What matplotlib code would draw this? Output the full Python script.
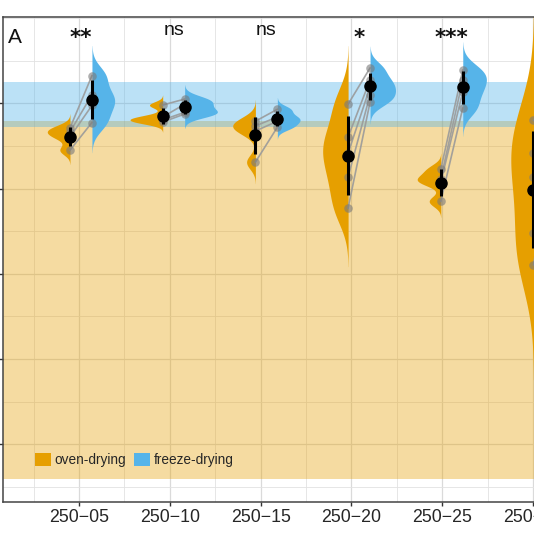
import numpy as np
import matplotlib
matplotlib.use("Agg")
import matplotlib.pyplot as plt
from matplotlib.mlab import GaussianKDE
from matplotlib.patches import Patch
from matplotlib.ticker import MultipleLocator

plt.rcParams['font.family'] = ['Liberation Sans', 'DejaVu Sans']

# groups on the x axis and the test result above each one
groups = ['250−05', '250−10', '250−15', '250−20', '250−25', '250−30']
signif = ['**', 'ns', 'ns', '*', '***', '']

# paired values per group (same samples, two drying methods)
oven = [
    [94.2, 93.3, 92.1, 89.0],
    [99.6, 96.8, 96.1, 95.6],
    [95.8, 94.7, 93.5, 86.2],
    [99.8, 92.1, 88.3, 82.7, 75.4],
    [84.5, 82.3, 81.5, 77.0],
    [96.0, 88.3, 82.7, 69.6, 62.1],
]
freeze = [
    [106.5, 102.0, 99.5, 95.5],
    [101.0, 99.8, 97.9, 97.5],
    [98.6, 96.8, 95.8, 94.4],
    [108.3, 105.5, 103.8, 102.0, 100.3],
    [107.8, 105.5, 102.7, 98.9],
    [104.0, 101.0, 98.0, 96.0, 93.0],  # falls outside the crop
]

# shaded reference ranges
freeze_band = (94.4, 105.0)
oven_band = (11.8, 95.8)

oven_col = '#E69F00'
freeze_col = '#56B4E9'

# violins sit slightly off the tick grid in the original figure
centers = 1.022 + 1.021 * np.arange(len(groups))
dodge = 0.121
half_w = [0.25, 0.36, 0.25, 0.28, 0.26, 0.25]


def half_violin(ax, x0, vals, side, color, w):
    # ggplot-style density: nrd0 bandwidth, untrimmed (cut = 3)
    vals = np.asarray(vals, dtype=float)
    sd = vals.std(ddof=1)
    q1, q3 = np.percentile(vals, [25, 75])
    bw = 0.9 * min(sd, (q3 - q1) / 1.34) * len(vals) ** -0.2
    kde = GaussianKDE(vals, bw_method=bw / sd)
    ys = np.linspace(vals.min() - 3 * bw, vals.max() + 3 * bw, 400)
    dens = kde(ys)
    xs = x0 + side * w * dens / dens.max()
    ax.fill_betweenx(ys, x0, xs, color=color, lw=0, zorder=2)


fig = plt.figure(figsize=(5.34, 5.34), dpi=100)
ax = fig.add_axes([0.00506, 0.0599, 1.095, 0.9082])

ax.axhspan(*oven_band, color=oven_col, alpha=0.37, lw=0, zorder=1)
ax.axhspan(*freeze_band, color=freeze_col, alpha=0.4, lw=0, zorder=1)

for i, c in enumerate(centers):
    xo, xf = c - dodge, c + dodge
    half_violin(ax, xo, oven[i], -1, oven_col, half_w[i])
    half_violin(ax, xf, freeze[i], 1, freeze_col, half_w[i])

    for a, b in zip(oven[i], freeze[i]):
        ax.plot([xo, xf], [a, b], color='#9a9a9a', lw=1.2, alpha=0.9, zorder=3)
    ax.scatter([xo] * len(oven[i]), oven[i], s=38, color='#7a7a7a',
               alpha=0.6, lw=0, zorder=4)
    ax.scatter([xf] * len(freeze[i]), freeze[i], s=38, color='#7a7a7a',
               alpha=0.6, lw=0, zorder=4)

    for x, v in ((xo, oven[i]), (xf, freeze[i])):
        m, s = np.mean(v), np.std(v, ddof=1)
        ax.plot([x, x], [m - s, m + s], color='black', lw=2.2,
                solid_capstyle='butt', zorder=5)
        ax.plot(x, m, 'o', color='black', ms=8, zorder=6)

    lab = signif[i]
    if lab.startswith('*'):
        ax.text(c, 113.9, lab, ha='center', va='baseline', fontsize=15.5,
                family='DejaVu Sans', fontweight='bold', color='#111111')
    elif lab:
        ax.text(c, 116.0, lab, ha='center', va='baseline', fontsize=14,
                color='#111111')

ax.text(0.221, 114.2, 'A', fontsize=15, ha='left', va='baseline',
        color='#111111')

ax.set_xlim(0.16, 6.6)
ax.set_ylim(6.41, 120.26)
ax.set_xticks(range(1, len(groups) + 1))
ax.set_xticklabels(groups)
ax.xaxis.set_minor_locator(MultipleLocator(0.5))
ax.set_yticks([20, 40, 60, 80, 100])
ax.yaxis.set_minor_locator(MultipleLocator(10))

ax.set_axisbelow(True)
ax.grid(which='major', color='#dadada', lw=0.9)
ax.grid(which='minor', color='#e2e2e2', lw=0.6)

ax.tick_params(axis='x', which='major', length=3, width=1, color='#333333',
               pad=2, labelsize=12.8, labelcolor='#262626')
ax.tick_params(axis='y', which='major', length=3, width=1, color='#333333',
               labelleft=False)
ax.tick_params(which='minor', length=0)
for sp in ax.spines.values():
    sp.set_color('#444444')
    sp.set_linewidth(1.1)

handles = [Patch(facecolor=oven_col, edgecolor='none', label='oven-drying'),
           Patch(facecolor=freeze_col, edgecolor='none', label='freeze-drying')]
leg = ax.legend(handles=handles, ncol=2, loc='lower left',
                bbox_to_anchor=(35 / 534, (534 - 467) / 534),
                bbox_transform=fig.transFigure, frameon=False, fontsize=9.8,
                handlelength=1.18, handleheight=1.18, handletextpad=0.25,
                columnspacing=0.6, borderpad=0, borderaxespad=0)
for t in leg.get_texts():
    t.set_color('#262626')

fig.savefig('out.png', dpi=100)
